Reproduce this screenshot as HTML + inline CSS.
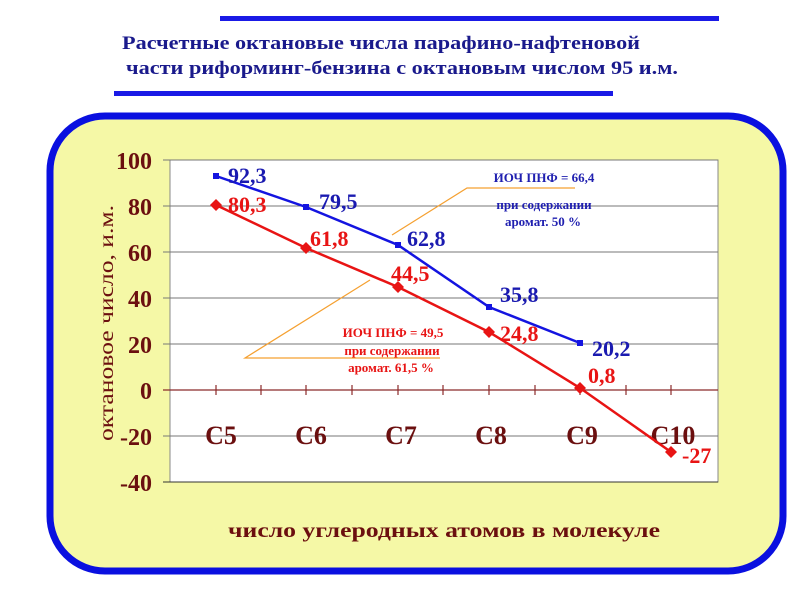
<!DOCTYPE html>
<html><head><meta charset="utf-8"><style>
body{margin:0;width:800px;height:600px;background:#fff;overflow:hidden;font-family:"Liberation Serif",serif}
</style></head><body>
<svg width="800" height="600" xmlns="http://www.w3.org/2000/svg" font-family="Liberation Serif, serif">
<rect x="220" y="16" width="499" height="5" fill="#1a1ae6"/>
<rect x="114" y="91" width="499" height="5" fill="#1a1ae6"/>
<text x="122" y="49" font-size="19" font-weight="bold" fill="#1a1a8c" textLength="518" lengthAdjust="spacingAndGlyphs">Расчетные октановые числа парафино-нафтеновой</text>
<text x="126" y="74" font-size="19" font-weight="bold" fill="#1a1a8c" textLength="552" lengthAdjust="spacingAndGlyphs">части риформинг-бензина с октановым числом 95 и.м.</text>
<rect x="50" y="116" width="733" height="455" rx="55" fill="#f5f8a6" stroke="#0a10e0" stroke-width="7"/>
<rect x="170" y="160" width="548" height="322" fill="#fff" stroke="#888" stroke-width="1"/>
<g stroke="#777" stroke-width="1">
<line x1="163" y1="160" x2="718" y2="160"/><line x1="163" y1="206" x2="718" y2="206"/>
<line x1="163" y1="252" x2="718" y2="252"/><line x1="163" y1="298" x2="718" y2="298"/>
<line x1="163" y1="344" x2="718" y2="344"/><line x1="163" y1="436" x2="718" y2="436"/>
<line x1="163" y1="482" x2="718" y2="482" stroke="#333"/>
</g>
<line x1="163" y1="390" x2="718" y2="390" stroke="#8b2a2a" stroke-width="1.2"/>
<g stroke="#8b2a2a" stroke-width="1.2">
<line x1="216" y1="385" x2="216" y2="395"/><line x1="261" y1="385" x2="261" y2="395"/>
<line x1="306" y1="385" x2="306" y2="395"/><line x1="352" y1="385" x2="352" y2="395"/>
<line x1="398" y1="385" x2="398" y2="395"/><line x1="443" y1="385" x2="443" y2="395"/>
<line x1="489" y1="385" x2="489" y2="395"/><line x1="535" y1="385" x2="535" y2="395"/>
<line x1="580" y1="385" x2="580" y2="395"/><line x1="626" y1="385" x2="626" y2="395"/>
<line x1="671" y1="385" x2="671" y2="395"/>
</g>
<g font-size="24" font-weight="bold" fill="#6b0f0f" text-anchor="end">
<text x="152" y="169">100</text><text x="152" y="215">80</text><text x="152" y="261">60</text>
<text x="152" y="307">40</text><text x="152" y="353">20</text><text x="152" y="399">0</text>
<text x="152" y="445">-20</text><text x="152" y="491">-40</text>
</g>
<g font-size="26" font-weight="bold" fill="#6b0f0f" text-anchor="middle">
<text x="221" y="444">C5</text><text x="311" y="444">C6</text><text x="401" y="444">C7</text>
<text x="491" y="444">C8</text><text x="582" y="444">C9</text><text x="673" y="444">C10</text>
</g>
<text transform="translate(113,323) rotate(-90)" font-size="20" fill="#6b0f0f" text-anchor="middle" textLength="236" lengthAdjust="spacingAndGlyphs">октановое число, и.м.</text>
<text x="228" y="537" font-size="20" font-weight="bold" fill="#6b0f0f" textLength="432" lengthAdjust="spacingAndGlyphs">число углеродных атомов в молекуле</text>
<g stroke="#f5a030" stroke-width="1.2" fill="none">
<polyline points="575,188 467,188 392,235"/>
<polyline points="370,280 245,358 440,358"/>
</g>
<polyline points="216,176 306,207 398,245 489,307 580,343" fill="none" stroke="#1414e0" stroke-width="2.5"/>
<g fill="#1414e0"><rect x="213" y="173" width="6" height="6"/><rect x="303" y="204" width="6" height="6"/><rect x="395" y="242" width="6" height="6"/><rect x="486" y="304" width="6" height="6"/><rect x="577" y="340" width="6" height="6"/></g>
<polyline points="216,205 306,248 398,287 489,332 580,388 671,452" fill="none" stroke="#e81414" stroke-width="2.5"/>
<g fill="#e81414">
<path d="M216 199l6 6-6 6-6-6z"/><path d="M306 242l6 6-6 6-6-6z"/><path d="M398 281l6 6-6 6-6-6z"/>
<path d="M489 326l6 6-6 6-6-6z"/><path d="M580 382l6 6-6 6-6-6z"/><path d="M671 446l6 6-6 6-6-6z"/>
</g>
<g font-size="22" font-weight="bold" fill="#1a1ab0">
<text x="228" y="183">92,3</text><text x="319" y="209">79,5</text><text x="407" y="246">62,8</text>
<text x="500" y="302">35,8</text><text x="592" y="356">20,2</text>
</g>
<g font-size="22" font-weight="bold" fill="#e81414">
<text x="228" y="212">80,3</text><text x="310" y="246">61,8</text><text x="391" y="281">44,5</text>
<text x="500" y="341">24,8</text><text x="588" y="383">0,8</text><text x="682" y="463">-27</text>
</g>
<g font-size="13" fill="#2020b0" text-anchor="middle" font-weight="bold">
<text x="544" y="182">ИОЧ ПНФ = 66,4</text>
<text x="544" y="209">при содержании</text>
<text x="543" y="226">аромат. 50 %</text>
</g>
<g font-size="13" fill="#e81414" text-anchor="middle" font-weight="bold">
<text x="393" y="337">ИОЧ ПНФ =  49,5</text>
<text x="392" y="355">при содержании</text>
<text x="391" y="372">аромат. 61,5 %</text>
</g>
</svg>
</body></html>
